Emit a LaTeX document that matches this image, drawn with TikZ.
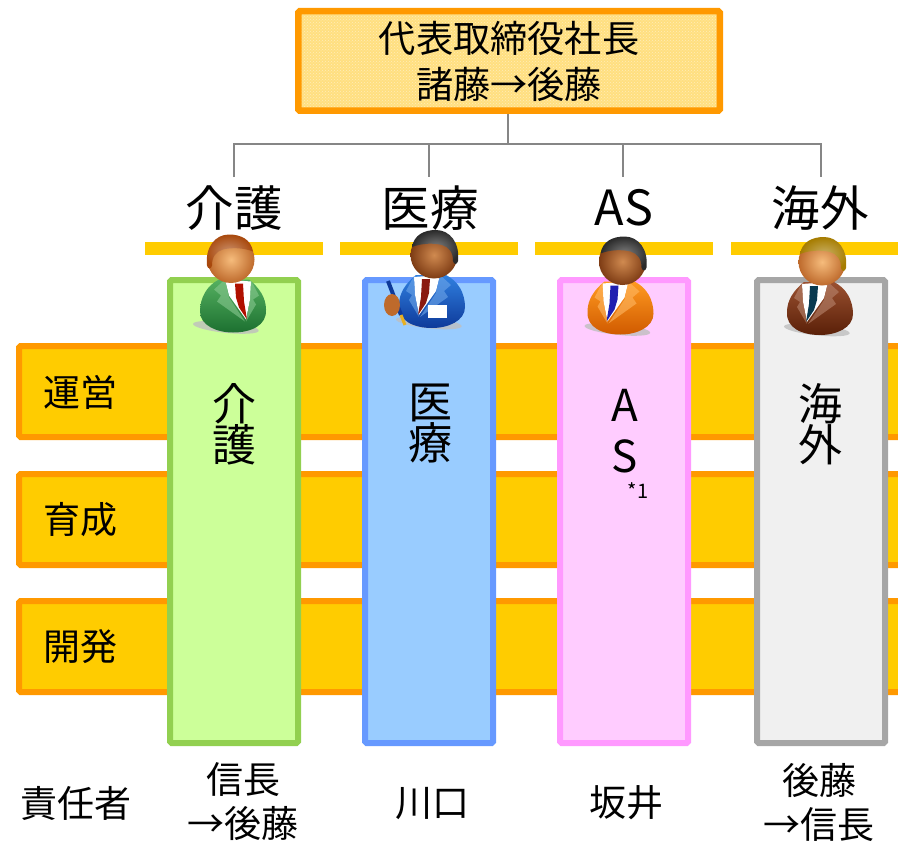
\documentclass[tikz,border=0pt]{standalone}
\usepackage{fontspec}
\setmainfont{Noto Sans CJK JP}
\usetikzlibrary{patterns}
\definecolor{ceofill}{HTML}{FFDF80}
\definecolor{edgeorange}{HTML}{FF9900}
\definecolor{bandyellow}{HTML}{FFCC00}
\definecolor{linkgray}{HTML}{868686}
\definecolor{greenfill}{HTML}{CCFF99}
\definecolor{greenedge}{HTML}{92D050}
\definecolor{bluefill}{HTML}{99CCFF}
\definecolor{blueedge}{HTML}{6699FF}
\definecolor{pinkfill}{HTML}{FFCCFF}
\definecolor{pinkedge}{HTML}{FF99FF}
\definecolor{grayfill}{HTML}{F0F0F0}
\definecolor{grayedge}{HTML}{A6A6A6}
\tikzset{
  ceobox/.style={draw=edgeorange,line width=6.5pt,rounded corners=1.5pt,
    preaction={fill=ceofill},preaction={pattern=crosshatch dots,pattern color=ceofill!55!white},
    minimum width=421.5pt,minimum height=99.5pt,inner sep=0pt,align=center,font=\fontsize{37.2}{46}\selectfont},
  link/.style={draw=linkgray,line width=1.6pt},
  heading/.style={font=\fontsize{48.5}{48.5}\selectfont,inner sep=0pt},
  headbar/.style={fill=bandyellow,minimum height=13pt,inner sep=0pt,anchor=west},
  bandbox/.style={draw=edgeorange,fill=bandyellow,line width=6pt,rounded corners=1.5pt,
    minimum width=900pt,minimum height=91pt,anchor=west},
  column/.style={line width=6pt,rounded corners=1.5pt,minimum width=128pt,minimum height=463pt},
  coltext/.style={font=\fontsize{44}{44}\selectfont,align=center,inner sep=0pt},
  rowtext/.style={font=\fontsize{37}{37}\selectfont,inner sep=0pt},
  bosstext/.style={font=\fontsize{37}{44}\selectfont,align=center,inner sep=0pt},
}
% #1 head x, #2 head y, #3 facing (1 left, -1 right), #4 hair, #5 suit light, #6 suit dark, #7 tie, #8 #9 skin
\newcommand{\personicon}[9]{
  \begin{scope}[shift={(#1,#2)}]
    \fill[black!25,opacity=.8,rotate=-6] (2,68) ellipse (33pt and 5.5pt);
    \begin{scope}[xscale=#3]
      \shade[top color=#5,bottom color=#6] (-35,50) .. controls (-35,38) and (-28,28) .. (-18,20)
        -- (12,20) .. controls (24,26) and (31,38) .. (31,52)
        .. controls (31,66) and (14,73) .. (-2,73) .. controls (-20,73) and (-36,66) .. (-35,50) -- cycle;
      \fill[white] (-20,22) -- (6,20) -- (2,36) -- (-15,60) -- (-19,40) -- cycle;
      \fill[#7] (-12,24) -- (-4,24) -- (-5,38) -- (-8,48) -- (-16,60) -- (-13,42) -- cycle;
      \fill[#5!70!white,opacity=.6] (-20,21) -- (-28,36) -- (-22,40) -- (-25,45) -- (-15,62) -- (-19,40) -- cycle;
      \fill[#5!70!white,opacity=.6] (6,20) -- (17,30) -- (10,36) -- (14,42) -- (-14,62) -- (2,38) -- cycle;
      \shade[inner color=#8,outer color=#9] (0,0) circle (23.5pt);
      \shade[inner color=#4!60!white,outer color=#4] (-22,-8) .. controls (-20,-20) and (-10,-25) .. (2,-25)
        .. controls (16,-25) and (26,-12) .. (24,6) .. controls (23,10) and (20,10) .. (19,6)
        .. controls (19,-3) and (15,-8) .. (8,-10) .. controls (0,-12) and (-12,-12) .. (-22,-8) -- cycle;
    \end{scope}
  \end{scope}
}
\definecolor{skinlight}{HTML}{F6BC7C}
\definecolor{skindark}{HTML}{BE6A2C}
\definecolor{tanlight}{HTML}{D08A50}
\definecolor{tandark}{HTML}{7E3C14}
\definecolor{hairbrown}{HTML}{A8480C}
\definecolor{hairblack}{HTML}{2A2A2A}
\definecolor{hairgold}{HTML}{A67C00}
\definecolor{suitgreen}{HTML}{55B060}
\definecolor{suitgreendark}{HTML}{1C7030}
\definecolor{suitblue}{HTML}{3080E0}
\definecolor{suitbluedark}{HTML}{0E3A9A}
\definecolor{suitorange}{HTML}{FF9A20}
\definecolor{suitorangedark}{HTML}{D05A00}
\definecolor{suitbrown}{HTML}{9A5030}
\definecolor{suitbrowndark}{HTML}{5A2008}
\definecolor{tiered}{HTML}{B01000}
\definecolor{tiebrown}{HTML}{8A1A10}
\definecolor{tieblue}{HTML}{2020B0}
\definecolor{tieteal}{HTML}{0A3A50}
\definecolor{pengold}{HTML}{E8B020}
\begin{document}
\begin{tikzpicture}[x=1pt,y=-1pt]
  \clip (0,0) rectangle (898,843);
  % top of the chart
  \node[ceobox] (ceo) at (509,61) {代表取締役社長\\諸藤→後藤};
  \coordinate (bus) at (508,144);
  \coordinate (dropa) at (234,177);
  \coordinate (dropb) at (429,177);
  \coordinate (dropc) at (623,177);
  \coordinate (dropd) at (821,177);
  \draw[link,line width=2.2pt] (ceo.south) ++(-1,0) -- (bus);
  \draw[link] (dropa) |- (bus) -| (dropb);
  \draw[link] (bus) -| (dropc);
  \draw[link] (bus) -| (dropd);

  \node[heading] (heada) at (234,208) {介護};
  \node[heading] (headb) at (430,208) {医療};
  \node[heading] (headc) at (624,208) {AS};
  \node[heading] (headd) at (820,208) {海外};
  \node[headbar,minimum width=178pt] (bara) at (145,248.5) {};
  \node[headbar,minimum width=178pt] (barb) at (340,248.5) {};
  \node[headbar,minimum width=178pt] (barc) at (535,248.5) {};
  \node[headbar,minimum width=178pt] (bard) at (731,248.5) {};

  % horizontal bands
  \node[bandbox] (unei) at (16,391.5) {};
  \node[bandbox] (ikusei) at (16,519.5) {};
  \node[bandbox] (kaihatsu) at (16,646.5) {};
  \node[rowtext] (uneitext) at (80,392) {運営};
  \node[rowtext] (ikuseitext) at (80,520) {育成};
  \node[rowtext] (kaihatsutext) at (80,647) {開発};

  % vertical columns
  \node[column,draw=greenedge,fill=greenfill] (cola) at (234,511.5) {};
  \node[column,draw=blueedge,fill=bluefill] (colb) at (429,511.5) {};
  \node[column,draw=pinkedge,fill=pinkfill] (colc) at (624,511.5) {};
  \node[column,draw=grayedge,fill=grayfill] (cold) at (821,511.5) {};
  \node[coltext] (texta) at (234,424) {介\\[-3pt]護};
  \node[coltext] (textb) at (430,424) {医\\[-3pt]療};
  \node[coltext] (textc) at (625,431) {A\\[7pt]S};
  \node[coltext] (textd) at (820,424) {海\\[-3pt]外};
  \node[font=\fontsize{20}{20}\selectfont,inner sep=0pt] (note) at (638,491) {*1};

  % people on top of the columns
  \personicon{231}{259.5}{-1}{hairbrown}{suitgreen}{suitgreendark}{tiered}{skinlight}{skindark}
  \personicon{434}{255}{1}{hairblack}{suitblue}{suitbluedark}{tiebrown}{tanlight}{tandark}
  \personicon{622.5}{261.5}{1}{hairblack}{suitorange}{suitorangedark}{tieblue}{tanlight}{tandark}
  \personicon{822}{262}{1}{hairgold}{suitbrown}{suitbrowndark}{tieteal}{skinlight}{skindark}
  % pen and badge
  \draw[suitbluedark,line width=4pt] (388,281) -- (401,315);
  \draw[pengold,line width=3pt] (401,315) -- (405,325);
  \fill[skindark] (392,305) ellipse (8pt and 11pt);
  \fill[white] (428,305) rectangle (447,318);

  % names along the bottom
  \node[rowtext] (bosslabel) at (76,803) {責任者};
  \node[bosstext] (bossa) at (243,802) {信長\\→後藤};
  \node[bosstext] (bossb) at (432,804) {川口};
  \node[bosstext] (bossc) at (626,803) {坂井};
  \node[bosstext] (bossd) at (819,802) {後藤\\→信長};
\end{tikzpicture}
\end{document}
